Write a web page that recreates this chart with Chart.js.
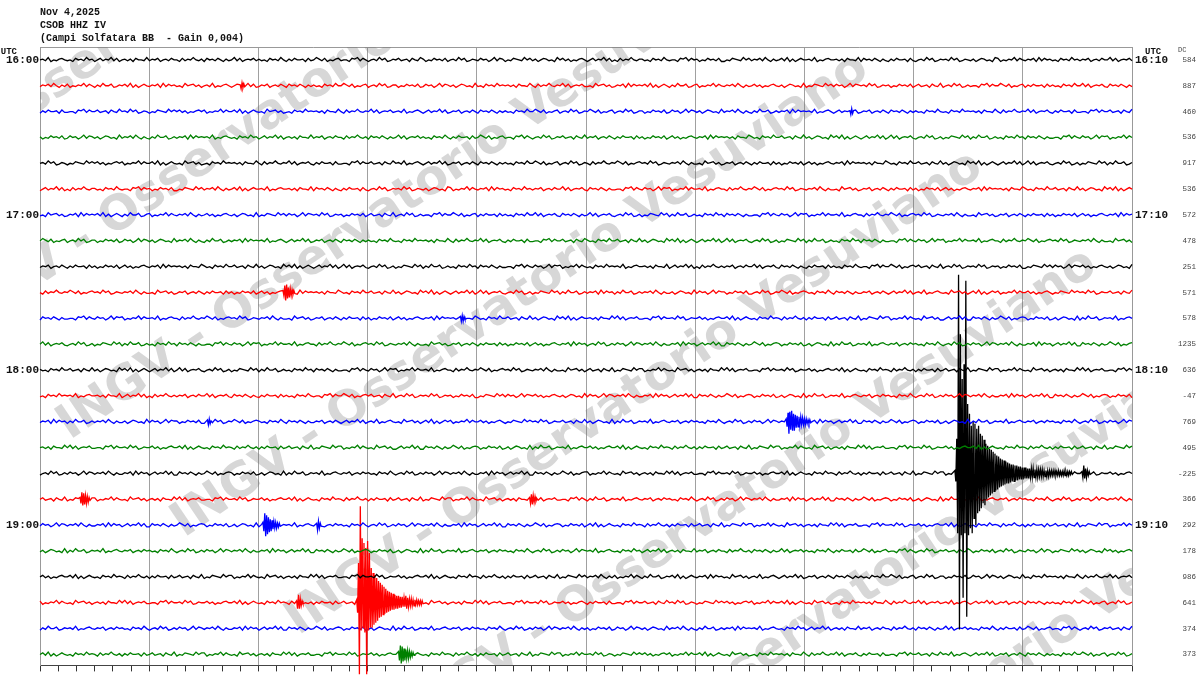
<!DOCTYPE html>
<html>
<head>
<meta charset="utf-8">
<script src="https://cdn.jsdelivr.net/npm/chart.js@4.4.0/dist/chart.umd.min.js"></script>
<style>
  html, body { margin: 0; padding: 0; background: #fff; }
  #wrap { width: 1200px; height: 675px; }
</style>
</head>
<body>
<div id="wrap"><canvas id="helicorder" width="1200" height="675"></canvas></div>
<script>
// header lines
const titleLines = ['Nov 4,2025', 'CSOB HHZ IV', '(Campi Solfatara BB  - Gain 0,004)'];

// row labels (one row = 10 minutes)
const leftLabels = ['16:00', '', '', '', '', '', '17:00', '', '', '', '', '', '18:00', '', '', '', '', '', '19:00', '', '', '', '', ''];
const rightLabels = ['16:10', '', '', '', '', '', '17:10', '', '', '', '', '', '18:10', '', '', '', '', '', '19:10', '', '', '', '', ''];
const dcValues = [584, 887, 460, 536, 917, 536, 572, 478, 251, 571, 578, 1235, 636, -47, 769, 495, -225, 366, 292, 178, 986, 641, 374, 373];

const traceColors = ['#000000', '#ff0000', '#0000ff', '#008000'];

// background noise, one digit per 1.5 s sample (4 = zero line)
const noiseRows = [
  '4537243564342645374524635473624535264437354624536442635474352645364253473624546353426453742536445263475362435634426573642453746235463452643752436453624537462354364524736524365437463524653427463524356424635473624263547435534264537434426573645243645362243654374635463742534637252464453724356445352644372645364253253644526324537462354537462354352465342762435473643546273645342645374535462453644736245463',
  '3546374253624354736425374462354637252464354627364534274563524537243564246354736235462453642645364253534264537447536243562453746235524364536236452473653524653427342645374545352644374263547435473624546334274563523546273645463725246425374462356243547364354637425346352435643524653427243654374636452473654537462354524364536246345264372453746235344265736447536243562536445263534264537447362454632645364253',
  '2536445263344265736446345264374537462354243654374646352435646243547364463725246434274563523426453745453526443742635474354736245463453724356424635473623546245364264536425353426453744753624356245374623547536243562453746235524364536236452473653524653427354637425325374462353546273645453724356424635473623546245364264536425353426453743426453745453526443742635474354736245463253644526334426573644634526437',
  '5243645362364524736535246534273546374253253744623535462736454537243564342645374524635473624535264437354624536442635474352645364253473624546353426453742536445263475362435634426573642453746235463452643735462453642536445263524364536246352435643546273645453526443753426453744634526437352465342746372524642463547362473624546324537462352436543746253744623534264537452645364253344265736436452473656243547364',
  '4537462354243654374646352435646243547364463725246434274563523426453745453526443742635474354736245463253644526334426573644634526437453724356424635473623546245364264536425353426453744753624356245374623542635474354753624356453746235435463742533427456352354624536425364452635243645362463524356435462736454535264437534264537446345264373524653427463725246424635473624736245463245374623524365437462537446235',
  '2463547362426354743553426453743442657364524364536224365437463546374253463725246445372435644535264437264536425325364452632453746235453746235435246534276243547364354627364534264537453546245364473624546326453642533442657364364524736562435473644537243564426354743547536243564537462354354637425334274563523546245364253644526352436453624635243564354627364545352644375342645374463452643735246534274637252464',
  '3427456352354627364546372524642537446235624354736435463742534635243564352465342724365437463645247365453746235452436453624634526437245374623534426573644753624356253644526353426453744736245463264536425347362454632453746235243654374625374462353426453745264536425334426573643645247365624354736445372435644263547435475362435645374623543546374253342745635235462453642536445263524364536246352435643546273645',
  '4753624356245374623552436453623645247365352465342735463742532537446235354627364545372435642463547362354624536426453642535342645374342645374545352644374263547435473624546325364452633442657364463452643753426453744634526437352465342746372524642463547362473624546324537462352436543746253744623534264537452645364253344265736436452473656243547364453724356442635474354753624356453746235435463742533427456352',
  '3546245364253644526352436453624635243564354627364545352644375342645374463452643735246534274637252464246354736247362454632453746235243654374625374462353426453745264536425334426573643645247365624354736434264537454537243564453526443724635473624263547435354624536447362454632645364253253644526353426453743442657364475362435646345264372453746235453746235452436453622436543746364524736546352435643524653427',
  '4263547435475362435645374623543546374253342745635235462453642536445263524364536246352435643546273645453526443753426453744634526437352465342746372524642463547362473624546324537462352436543746253744623535462736452537446235354637425335246534273645247365524364536224537462354753624356534264537426453642533546245364246354736245372435643427456352463725246462435473644635243564243654374645374623544634526437',
  '2645364253344265736436452473656243547364453724356442635474354753624356453746235435463742533427456352354624536425364452635243645362463524356435462736454535264437534264537446345264373524653427463725246445352644374736245463344265736445374623544635243564463725246434264537454263547435253644526346345264372436543746624354736434274563522463547362264536425347536243565243645362352465342725374462354537243564',
  '4736245463245374623524365437462537446235342645374526453642533442657364364524736562435473644537243564426354743547536243564537462354354637425334274563523546245364253644526352436453624635243564354627364524537462353645247365354637425335462736452463547362264536425347536243565243645362352465342725374462354537243564354624536453426453742453746235364524736535463742533546273645246354736226453642534753624356',
  '5342645374463452643735246534274637252464246354736247362454632453746235243654374625374462353426453745264536425334426573643645247365624354736445372435644263547435475362435645374623543546374253342745635246345264372436543746624354736434274563524535264437473624546334426573644537462354463524356446372524643426453745426354743525364452634634526437243654374662435473643427456352453526443747362454633442657364',
  '3426453745453724356445352644372463547362426354743535462453644736245463264536425325364452635342645374344265736447536243564634526437245374623545374623545243645362243654374636452473654635243564352465342736452473653546374253354627364524635473622645364253475362435652436453623524653427253744623545372435643546245364534264537424537462353645247365354637425335462736452463547362264536425347536243565243645362',
  '3546273645253744623535463742533524653427364524736552436453622453746235475362435653426453742645364253354624536424635473624537243564342745635246372524646243547364463524356424365437464537462354463452643735246534272537446235453724356435462453645342645374245374623536452473653546374253354627364524635473622645364253475362435652436453623524653427253744623545372435643546245364534264537424537462353645247365',
  '4535264437473624546334426573644537462354463524356446372524643426453745426354743525364452634634526437243654374662435473643427456352246354736226453642534753624356524364536235246534272537446235453724356446352435644637252464342645374542635474352536445263463452643724365437466243547364342745635245352644374736245463344265736445374623544635243564463725246434264537454263547435253644526346345264372436543746',
  '2453746235364524736535463742533546273645246354736226453642534753624356524364536235246534272537446235453724356435462453645342645374245374623536452473653546374253354627364524635473622645364253475362435662435473643427456352453526443747362454633442657364453746235446352435644637252464342645374542635474352536445263463452643724365437466243547364342745635245352644374736245463344265736445374623544635243564',
  '4634526437243654374662435473643427456352453526443747362454633442657364453746235446352435644637252464342645374542635474352536445263463452643724365437466243547364342745635245352644374736245463344265736425374462354537243564354624536453426453742453746235364524736535463742533546273645246354736226453642534753624356524364536235246534272537446235453724356435462453645342645374245374623536452473653546374253',
  '3645247365354637425335462736452463547362264536425347536243565243645362352465342725374462354537243564354624536453426453742453746235364524736535463742533546273645246354736226453642534753624356524364536246372524643426453745426354743525364452634634526437243654374662435473643427456352453526443747362454633442657364453746235446352435644637252464342645374542635474352536445263463452643724365437466243547364',
  '3524653427253744623545372435643546245364534264537424537462353645247365354637425335462736452463547362264536425347536243565243645362352465342725374462354537243564354624536453426453742453746235364524736545372435643426453745246354736245352644373546245364426354743526453642534736245463534264537425364452634753624356344265736424537462354634526437524364536245374623543645247365243654374635246534274635243564',
  '4635243564463725246434264537454263547435253644526346345264372436543746624354736434274563524535264437473624546334426573644537462354463524356446372524643426453745426354743525364452634634526437243654374635463742536243547364253744623546372524643546273645342745635245372435642463547362354624536426453642535342645374475362435624537462355243645362364524736535246534273426453745453526443742635474354736245463',
  '6243547364342745635245352644374736245463344265736445374623544635243564463725246434264537454263547435253644526346345264372436543746624354736434274563524535264437473624546334426573644537462354463524356425364452633442657364463452643745374623542436543746463524356462435473644637252464342745635234264537454535264437426354743547362454634537243564246354736235462453642645364253534264537447536243562453746235',
  '2537446235453724356435462453645342645374245374623536452473653546374253354627364524635473622645364253475362435652436453623524653427253744623545372435643546245364534264537424537462353645247365354637425352436453623645247365352465342735463742532537446235354627364545372435643426453745246354736245352644373546245364426354743526453642534736245463534264537425364452634753624356344265736424537462354634526437',
  '4637252464342645374542635474352536445263463452643724365437466243547364342745635245352644374736245463344265736445374623544635243564463725246434264537454263547435253644526346345264372436543746624354736445374623542436543746463524356462435473644637252464342745635234264537454535264437426354743547362454632536445263344265736446345264374537243564246354736235462453642645364253534264537447536243562453746235'
];

// recorded events: row, start second, amplitudes every 0.5 s (positive = up)
const eventRow = [1, 2, 9, 10, 14, 14, 17, 17, 18, 18, 21, 21, 23, 16, 16];
const eventStart = [110, 445, 133.5, 231, 92, 410, 22, 269, 122.5, 152, 141, 174, 197, 502.7, 572.5];
const eventAmp = [
  [1, -3, 3, -2, 2, -1],
  [1, -3, 3, -2, 1],
  [2, -3, 7, -8, 8, -6, 5, -5, 4, -3, 3, -2, 2, -1],
  [2, -3, 3, -3, 2, -1],
  [2, -3, 3, -2, 1],
  [3, -5, 9, -12, 10, -8, 11, -9, 8, -9, 7, -6, 6, -5, 5, -4, 5, -3, 4, -3, 3, -3, 3, -2, 2, -2, 2, -1],
  [2, -4, 7, -6, 6, -5, 4, -4, 3, -3, 2, -1],
  [2, -4, 5, -5, 4, -3, 3, -2, 1],
  [3, -6, 12, -11, 10, -9, 8, -7, 6, -6, 5, -4, 4, -3, 3, -3, 2, -2, 2, -1],
  [2, -5, 4, -3, 2, -1],
  [2, -6, 8, -6, 4, -3, 2, -1],
  [3, -10, 40, -72, 97, -28, 65, -25, 60, -30, 55, -72, 62, -28, 50, -25,
   35, -25, 30, -22, 28, -20, 25, -18, 22, -15, 20, -14, 18, -12, 16, -11,
   14, -10, 12, -9, 11, -8, 10, -7, 9, -7, 8, -6, 7, -6, 7, -5, 6, -5, 6, -4, 5, -4,
   7, -6, 5, -4, 4, -3, 4, -3, 3, -3, 3, -2, 3, -2, 2, -2, 2, -2, 2, -1],
  [3, -6, 9, -9, 8, -7, 6, -6, 5, -4, 4, -4, 3, -3, 2, -2, 2, -1],
  [3, -8, 35, -60, 200, -157, 140, -62, 95, -125, 110, -60, 194, -144,
   70, -62, 60, -55, 48, -60, 52, -45, 50, -52, 45, -40, 48, -38,
   40, -35, 38, -30, 34, -32, 30, -26, 28, -24, 25, -22, 24, -20, 22, -18,
   20, -17, 18, -16, 17, -14, 15, -13, 14, -12, 13, -11, 12, -10, 11, -10, 10, -9, 9, -8, 9, -8,
   8, -7, 8, -7, 7, -6, 7, -6, 6, -6, 6, -5, 6, -5, 5, -5, 5, -4, 5, -4, 5, -4, 4, -4, 4, -4, 4, -3, 4, -3, 4, -3, 3, -3,
   3, -3, 3, -3, 3, -2, 3, -2, 3, -2, 3, -2, 2, -2, 3, -2, 2, -2, 2, -2, 3, -2, 2, -2, 2, -2, 2, -1, 2, -1],
  [2, -4, 8, -5, 5, -4, 3, -2, 2, -1]
];

const ROW_SECONDS = 600;
const ROW_GAP = 26;
const FIRST_ROW = 13;
const NOISE_SCALE = 0.8;
const EVENT_STEP = 0.5;

const rowBaselines = noiseRows.map((_, r) => FIRST_ROW + ROW_GAP * r);

function buildTrace(r) {
  const base = rowBaselines[r];
  const s = noiseRows[r];
  const dt = ROW_SECONDS / (s.length - 1);
  const mine = [];
  eventRow.forEach((row, k) => { if (row === r) mine.push(k); });
  const pts = [];
  for (let i = 0; i < s.length; i++) {
    const t = i * dt;
    const inEvent = mine.some(k => t >= eventStart[k] - 0.5 && t <= eventStart[k] + eventAmp[k].length * EVENT_STEP);
    if (inEvent) continue;
    pts.push({ x: t, y: base - (Number(s[i]) - 4) * NOISE_SCALE });
  }
  mine.forEach(k => {
    eventAmp[k].forEach((a, j) => pts.push({ x: eventStart[k] + j * EVENT_STEP, y: base - a }));
  });
  pts.sort((a, b) => a.x - b.x);
  return pts;
}

const datasets = noiseRows.map((_, r) => ({
  data: buildTrace(r),
  borderColor: traceColors[r % 4],
  borderWidth: 1.3,
  pointRadius: 0,
  tension: 0,
  fill: false,
  clip: false
}));

// diagonal station watermark, one copy per band
const watermark = {
  id: 'watermark',
  beforeDatasetsDraw(chart) {
    const { ctx, chartArea } = chart;
    const txt = 'INGV - Osservatorio Vesuviano';
    ctx.save();
    ctx.beginPath();
    ctx.rect(chartArea.left, chartArea.top, chartArea.right - chartArea.left, chartArea.bottom - chartArea.top);
    ctx.clip();
    ctx.font = 'bold 48px "DejaVu Sans"';
    ctx.fillStyle = 'rgba(110,110,110,0.28)';
    ctx.translate(184, 538);
    ctx.rotate(-34 * Math.PI / 180);
    for (let k = -3; k <= 4; k++) {
      ctx.fillText(txt, k * 40, k * 145);
    }
    ctx.restore();
  }
};

const headers = {
  id: 'headers',
  afterDraw(chart) {
    const { ctx, chartArea } = chart;
    ctx.save();
    ctx.fillStyle = '#111';
    ctx.textBaseline = 'middle';
    ctx.font = 'bold 9px "Liberation Mono"';
    ctx.textAlign = 'right';
    ctx.fillText('UTC', 17, 52);
    ctx.textAlign = 'left';
    ctx.fillText('UTC', chartArea.right + 13, 52);
    ctx.font = '7px "Liberation Mono"';
    ctx.fillStyle = '#444';
    ctx.fillText('DC', chartArea.right + 46, 50);
    ctx.restore();
  }
};

const rowTicks = axis => { axis.ticks = rowBaselines.map(v => ({ value: v })); };

new Chart(document.getElementById('helicorder').getContext('2d'), {
  type: 'line',
  data: { datasets },
  options: {
    responsive: false,
    animation: false,
    devicePixelRatio: 1,
    layout: { padding: { left: 0, top: 0, bottom: 0, right: 4 } },
    plugins: {
      legend: { display: false },
      tooltip: { enabled: false },
      title: {
        display: true,
        text: titleLines,
        align: 'start',
        fullSize: false,
        color: '#111',
        font: { family: 'Liberation Mono', weight: 'bold', size: 10, lineHeight: 1.3 },
        padding: { top: 6, bottom: 2 }
      }
    },
    scales: {
      x: {
        type: 'linear',
        position: 'bottom',
        min: 0,
        max: ROW_SECONDS,
        ticks: { display: false, stepSize: 10 },
        grid: {
          color: c => (c.tick && c.tick.value % 60 === 0) ? '#a0a0a0' : 'rgba(0,0,0,0)',
          tickColor: '#333',
          tickLength: 6
        },
        border: { color: '#444' }
      },
      xTop: {
        type: 'linear',
        position: 'top',
        min: 0,
        max: ROW_SECONDS,
        ticks: { display: false },
        grid: { display: false, drawTicks: false },
        border: { color: '#999' }
      },
      y: {
        type: 'linear',
        position: 'left',
        reverse: true,
        min: 0,
        max: 622,
        afterBuildTicks: rowTicks,
        afterFit: a => { a.width = 40; },
        ticks: {
          autoSkip: false,
          padding: 1,
          color: '#111',
          font: { family: 'Liberation Mono', weight: 'bold', size: 11 },
          callback: (v, i) => leftLabels[i]
        },
        grid: { display: false, drawTicks: false },
        border: { color: '#999' }
      },
      yTime: {
        type: 'linear',
        position: 'right',
        reverse: true,
        min: 0,
        max: 622,
        afterBuildTicks: rowTicks,
        afterFit: a => { a.width = 41; },
        ticks: {
          autoSkip: false,
          padding: 3,
          color: '#111',
          font: { family: 'Liberation Mono', weight: 'bold', size: 11 },
          callback: (v, i) => rightLabels[i]
        },
        grid: { display: false, drawTicks: false },
        border: { color: '#999' }
      },
      yDc: {
        type: 'linear',
        position: 'right',
        reverse: true,
        min: 0,
        max: 622,
        afterBuildTicks: rowTicks,
        afterFit: a => { a.width = 23; },
        ticks: {
          autoSkip: false,
          padding: -3,
          crossAlign: 'far',
          color: '#444',
          font: { family: 'Liberation Mono', size: 7.5 },
          callback: (v, i) => String(dcValues[i])
        },
        grid: { display: false, drawTicks: false },
        border: { display: false }
      }
    }
  },
  plugins: [watermark, headers]
});
</script>
</body>
</html>
